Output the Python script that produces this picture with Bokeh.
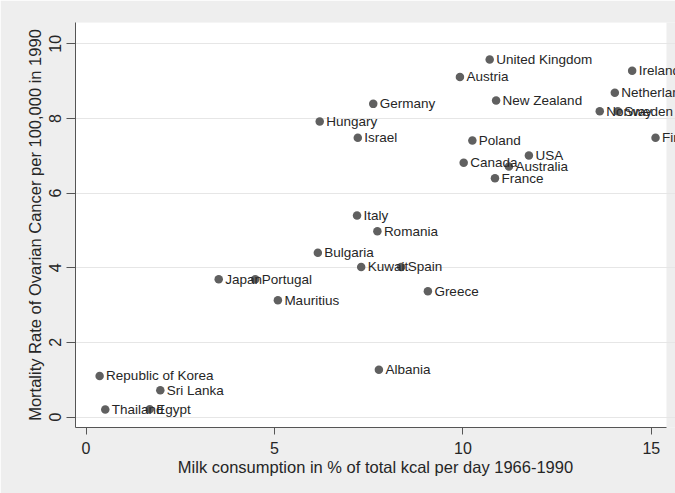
from bokeh.plotting import figure
from bokeh.models import ColumnDataSource, LabelSet, Range1d, FixedTicker, BoxAnnotation
from bokeh.core.properties import value
from bokeh.embed import file_html
from bokeh.resources import INLINE

countries = ["Republic of Korea", "Thailand", "Egypt", "Sri Lanka", "Japan", "Portugal",
             "Mauritius", "Bulgaria", "Italy", "Romania", "Kuwait", "Spain", "Greece",
             "Albania", "Hungary", "Israel", "Germany", "Austria", "United Kingdom",
             "New Zealand", "Poland", "Canada", "Australia", "USA", "France", "Ireland",
             "Netherlands", "Norway", "Sweden", "Finland"]
milk = [0.36, 0.51, 1.69, 1.97, 3.52, 4.49,
        5.09, 6.15, 7.19, 7.73, 7.30, 8.36, 9.07,
        7.77, 6.20, 7.21, 7.62, 9.92, 10.71,
        10.88, 10.25, 10.02, 11.22, 11.75, 10.85, 14.49,
        14.03, 13.63, 14.11, 15.11]
mortality = [1.10, 0.20, 0.21, 0.72, 3.69, 3.69,
             3.13, 4.40, 5.40, 4.98, 4.02, 4.02, 3.37,
             1.27, 7.92, 7.48, 8.39, 9.11, 9.58,
             8.48, 7.41, 6.81, 6.71, 7.01, 6.40, 9.28,
             8.69, 8.19, 8.19, 7.48]
x_ticks = [0, 5, 10, 15]
y_ticks = [0, 2, 4, 6, 8, 10]

X_MIN, X_PLOT_MAX, X_MAX = -0.28, 15.40, 15.64
Y_MIN, Y_MAX = -0.28, 10.57

FONT = "Liberation Sans"
BG = "#eeeeee"
TXT = "#262626"

src = ColumnDataSource(dict(x=milk, y=mortality, name=countries))

p = figure(width=675, height=493, output_backend="svg", toolbar_location=None,
           x_range=Range1d(X_MIN, X_MAX), y_range=Range1d(Y_MIN, Y_MAX),
           min_border_left=75, min_border_right=0, min_border_top=22, min_border_bottom=66)
p.background_fill_color = BG
p.border_fill_color = BG
p.outline_line_color = None

# white plot region (labels may run past it, as in the reference)
p.add_layout(BoxAnnotation(right=X_PLOT_MAX, fill_color="white", fill_alpha=1.0,
                           line_color=None, level="image"))

p.scatter("x", "y", source=src, size=8.5, color="#606060", line_color=None)
labels = LabelSet(x="x", y="y", text="name", source=src, x_offset=6.5, y_offset=0,
                  text_baseline="middle", text_font=value(FONT), text_font_size=value("13.5px"),
                  text_color=TXT)
p.add_layout(labels)

p.xaxis.ticker = FixedTicker(ticks=x_ticks)
p.yaxis.ticker = FixedTicker(ticks=y_ticks)
p.xaxis.bounds = (X_MIN, X_PLOT_MAX)
p.xgrid.grid_line_color = None
p.ygrid.grid_line_color = "#e6e6e6"
p.ygrid.grid_line_width = 1.2

for ax in (p.xaxis, p.yaxis):
    ax.axis_line_color = "#555555"
    ax.major_tick_line_color = "#555555"
    ax.minor_tick_line_color = None
    ax.major_tick_in = 0
    ax.major_label_text_font = FONT
    ax.major_label_text_font_size = "16px"
    ax.major_label_text_color = TXT
    ax.axis_label_text_font = FONT
    ax.axis_label_text_font_size = "16.5px"
    ax.axis_label_text_font_style = "normal"
    ax.axis_label_text_color = TXT

p.xaxis.major_tick_out = 7
p.yaxis.major_tick_out = 9
p.xaxis.major_label_standoff = 7
p.yaxis.major_label_standoff = 5
p.xaxis.axis_label_standoff = 1
p.yaxis.axis_label_standoff = 3
p.yaxis.major_label_orientation = "vertical"

p.xaxis.axis_label = "Milk consumption in % of total kcal per day 1966-1990"
p.yaxis.axis_label = "Mortality Rate of Ovarian Cancer per 100,000 in 1990"

open("out.html", "w").write(file_html(p, INLINE))
